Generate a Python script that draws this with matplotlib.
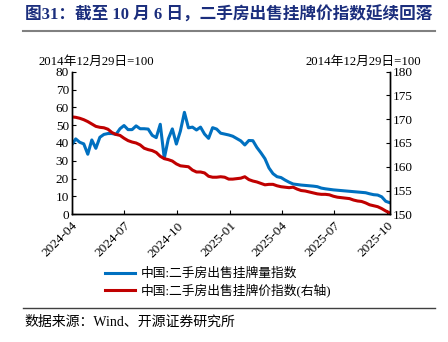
import matplotlib
matplotlib.use("Agg")
import matplotlib.pyplot as plt
import matplotlib.dates as mdates
import pandas as pd

plt.rcParams['font.family'] = ['Liberation Serif', 'Noto Sans CJK SC', 'DejaVu Sans']
plt.rcParams['axes.unicode_minus'] = False

# weekly data, 2024-04-01 .. 2025-10-06
dates = pd.date_range("2024-04-01", "2025-10-06", freq="7D")

volume_idx = [38.9, 42.3, 40.4, 39.5, 33.7, 41.7, 37.0, 43.2, 44.8, 45.3,
              45.3, 44.8, 48.0, 49.8, 47.5, 47.5, 49.6, 48.0, 48.0, 47.8,
              44.3, 43.0, 50.5, 31.4, 42.3, 47.9, 39.4, 46.7, 57.2, 48.5,
              48.9, 47.3, 48.9, 45.0, 42.6, 48.6, 47.8, 45.5, 45.0, 44.5,
              43.8, 42.5, 41.2, 38.9, 41.4, 41.3, 37.5, 34.5, 31.2, 26.0,
              22.8, 21.1, 20.6, 19.2, 18.0, 17.0, 16.7, 16.4, 16.2, 16.0,
              15.8, 15.5, 14.7, 14.3, 14.0, 13.7, 13.5, 13.3, 13.1, 12.9,
              12.7, 12.5, 12.3, 12.1, 11.5, 11.0, 10.8, 9.8, 7.3, 6.5]

price_idx = [170.5, 170.4, 170.2, 169.9, 169.5, 169.0, 168.5, 168.3, 168.2, 167.9,
             167.2, 166.8, 166.6, 166.0, 165.5, 165.2, 165.0, 164.6, 163.9, 163.6,
             163.4, 163.0, 162.2, 161.7, 161.5, 161.2, 160.6, 160.2, 160.1, 160.0,
             159.3, 158.9, 158.9, 158.7, 158.0, 157.8, 157.8, 157.9, 157.8, 157.4,
             157.4, 157.5, 157.6, 157.9, 157.3, 157.0, 156.8, 156.5, 156.2, 156.3,
             156.3, 156.0, 155.8, 155.7, 155.6, 155.7, 155.3, 155.0, 154.9, 154.7,
             154.5, 154.3, 154.2, 154.2, 154.1, 153.8, 153.6, 153.5, 153.4, 153.3,
             153.0, 152.8, 152.7, 152.4, 152.0, 151.8, 151.6, 151.2, 150.7, 150.3]

label_vol = "中国:二手房出售挂牌量指数"
label_price = "中国:二手房出售挂牌价指数(右轴)"
unit_text = "2014年12月29日=100"
title = "图31：截至 10 月 6 日，二手房出售挂牌价指数延续回落"
source = "数据来源：Wind、开源证券研究所"

blue = "#0070C0"
red = "#C00000"

fig = plt.figure(figsize=(4.48, 3.42), dpi=100)
ax = fig.add_axes([0.160, 0.3734, 0.710, 0.417])
ax2 = ax.twinx()

l1, = ax.plot(dates, volume_idx, color=blue, lw=2.2, label=label_vol)
l2, = ax2.plot(dates, price_idx, color=red, lw=2.2, label=label_price)

ax.set_xlim(pd.Timestamp("2024-04-01"), pd.Timestamp("2025-10-06"))
ax.set_ylim(0, 80)
ax.set_yticks(range(0, 81, 10))
ax2.set_ylim(150, 180)
ax2.set_yticks(range(150, 181, 5))

ax.xaxis.set_major_locator(mdates.MonthLocator(bymonth=[1, 4, 7, 10]))
ax.xaxis.set_major_formatter(mdates.DateFormatter("%Y-%m"))
for lab in ax.get_xticklabels():
    lab.set_rotation(45)
    lab.set_ha("right")
    lab.set_rotation_mode("anchor")

for a in (ax, ax2):
    a.spines['top'].set_visible(False)
    for s in a.spines.values():
        s.set_linewidth(1.0)
    a.tick_params(direction="in", length=3, labelsize=9.5, pad=2)
ax.tick_params(axis='x', pad=4)

fig.text(0.215, 0.818, unit_text, fontsize=9.2, ha="center", va="center")
fig.text(0.81, 0.818, unit_text, fontsize=9.2, ha="center", va="center")

fig.legend(handles=[l1, l2], loc="upper left", bbox_to_anchor=(0.222, 0.232),
           frameon=False, fontsize=9.2, handlelength=2.4, labelspacing=0.25,
           borderaxespad=0, handletextpad=0.45)

fig.text(0.055, 0.955, title, fontsize=12, fontweight="bold", color="#1B2E7D",
         ha="left", va="center")
fig.add_artist(plt.Line2D([0.052, 0.972], [0.908, 0.908], color="#808080", lw=1.5))
fig.add_artist(plt.Line2D([0.052, 0.972], [0.098, 0.098], color="#404040", lw=1.0))
fig.text(0.055, 0.058, source, fontsize=10, ha="left", va="center")

fig.savefig("out.png", dpi=100)
